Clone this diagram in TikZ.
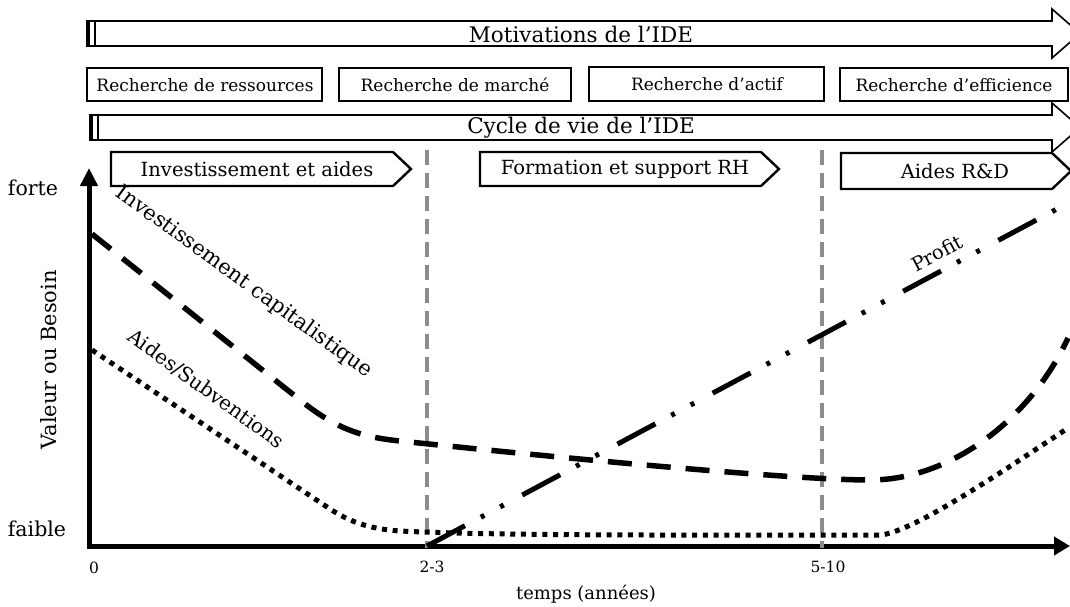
\documentclass[tikz,border=0pt]{standalone}
\usepackage{fontspec}
\setmainfont{DejaVu Serif}
\usetikzlibrary{arrows.meta}
\newcommand{\fs}[1]{\fontsize{#1}{#1}\selectfont}
\begin{document}
\begin{tikzpicture}[x=1pt,y=-1pt,
  bigarrow/.style={draw, line width=1.6pt, fill=white, line join=miter},
  boxst/.style={draw, line width=2.6pt},
  phase/.style={draw, line width=2.4pt, line join=miter},
  lbl/.style={inner sep=0pt, font=\fs{20}},
  biglbl/.style={inner sep=0pt, font=\fs{21.5}},
  phaselbl/.style={inner sep=0pt, font=\fs{19.5}},
  boxlbl/.style={inner sep=0pt, font=\fs{17}},
  ticklbl/.style={inner sep=0pt, font=\fs{15.5}},
  axis/.style={line width=5pt},
  period/.style={draw=black!45, line width=4.5pt, dash pattern=on 15pt off 8pt},
  capcurve/.style={line width=5.5pt, dash pattern=on 24pt off 15pt},
  aidcurve/.style={line width=5pt, dash pattern=on 5pt off 5.7pt},
  profcurve/.style={line width=5pt, dash pattern=on 43pt off 18pt on 4pt off 18pt on 4pt off 21pt}
]
\useasboundingbox (0,0) rectangle (1070,607);

% --- big arrows
\draw[bigarrow] (87,21) -- (1052,21) -- (1052,9) -- (1080,33.5) -- (1052,58) -- (1052,46) -- (87,46) -- cycle;
\draw[line width=3pt] (88.5,21) -- (88.5,46);
\draw[line width=1.6pt] (95,21) -- (95,46);
\node[biglbl] (motiv) at (581,34) {Motivations de l’IDE};

\draw[bigarrow] (90,115) -- (1052,115) -- (1052,103) -- (1080,127.5) -- (1052,152) -- (1052,140) -- (90,140) -- cycle;
\draw[line width=3pt] (91.5,115) -- (91.5,140);
\draw[line width=1.6pt] (98,115) -- (98,140);
\node[biglbl] (cycle) at (581,128) {Cycle de vie de l’IDE};

% --- motivation boxes
\draw[boxst] (87,68) rectangle (322,101);
\node[boxlbl] (b1) at (205,85) {Recherche de ressources};
\draw[boxst] (339,68) rectangle (571,101);
\node[boxlbl] (b2) at (455,85) {Recherche de marché};
\draw[boxst] (589,67) rectangle (824,101);
\node[boxlbl] (b3) at (707,84) {Recherche d’actif};
\draw[boxst] (840,68) rectangle (1068,101);
\node[boxlbl] (b4) at (954,85) {Recherche d’efficience};

% --- phase arrows
\draw[phase] (111,152) -- (393,152) -- (411,169) -- (393,186) -- (111,186) -- cycle;
\node[phaselbl] (p1) at (257,169) {Investissement et aides};
\draw[phase] (480,152) -- (761,152) -- (779,169) -- (761,186) -- (480,186) -- cycle;
\node[phaselbl] (p2) at (625,169) {Formation et support RH};
\draw[phase] (841,153) -- (1052,153) -- (1071,171) -- (1052,189) -- (841,189) -- cycle;
\node[phaselbl] (p3) at (955,171) {Aides R\&D};

% --- axes
\coordinate (O) at (89,546);
\coordinate (Ytop) at (89,168);
\coordinate (Xend) at (1070,546);
\draw[axis, -{Triangle[length=18pt,width=17pt]}] (89,548.5) -- (Ytop);
\draw[axis, -{Triangle[length=16pt,width=18pt]}] (86.5,546) -- (Xend);

% --- period lines
\coordinate (v1t) at (427,150);
\coordinate (v1b) at (427,548);
\coordinate (v2t) at (822,150);
\coordinate (v2b) at (822,548);
\draw[period] (v1t) -- (v1b);
\draw[period] (v2t) -- (v2b);

% --- curves
\draw[capcurve] (92,234) -- (300,400) .. controls (335,428) and (360,437) .. (400,441)
  .. controls (600,462) and (800,480) .. (870,480)
  .. controls (950,480) and (1030,420) .. (1068,338);
\draw[aidcurve] (92,350) -- (330,509) .. controls (350,522) and (370,529) .. (400,531)
  .. controls (500,536) and (700,535) .. (880,535)
  .. controls (910,533) and (990,480) .. (1068,428);
\draw[profcurve] (427,546) -- (1070,202);

% --- curve labels
\node[lbl, font=\fs{21}, rotate=-36] (lcap) at (244,282) {Investissement capitalistique};
\node[lbl, rotate=-36] (laid) at (206,389) {Aides/Subventions};
\node[lbl, font=\fs{19.5}, rotate=28] (lprof) at (937,253) {Profit};

% --- axis labels
\node[lbl, font=\fs{20.5}] (forte) at (33,188) {forte};
\node[lbl, font=\fs{20.5}] (faible) at (37,529) {faible};
\node[lbl, font=\fs{21}, rotate=90] (yl) at (49,360) {Valeur ou Besoin};
\node[ticklbl] (t0) at (94,568) {0};
\node[ticklbl] (t1) at (432,567) {2-3};
\node[ticklbl] (t2) at (828,567) {5-10};
\node[lbl, font=\fs{18}] (xl) at (586,594) {temps (années)};
\end{tikzpicture}
\end{document}
